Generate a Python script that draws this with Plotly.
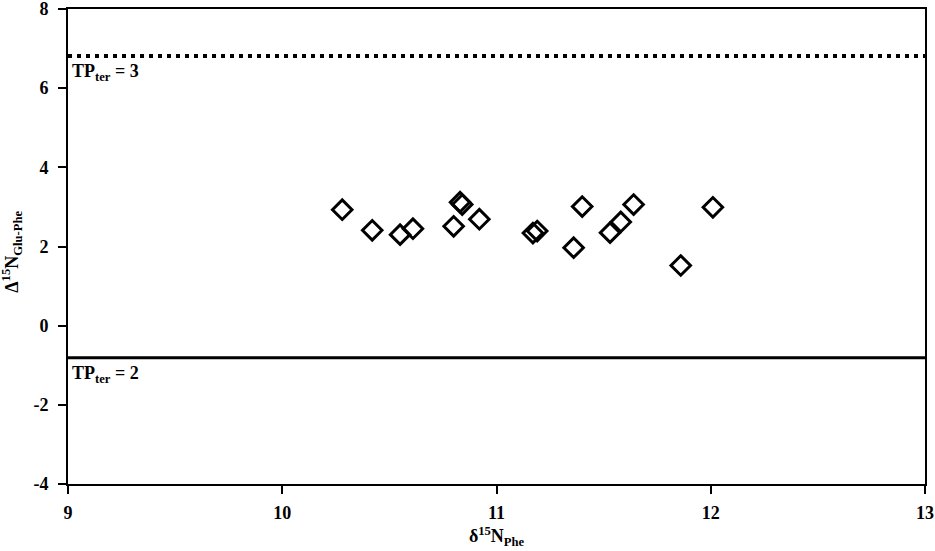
import plotly.graph_objects as go

# d15N Phe (x) and D15N Glu-Phe (y)
d15n_phe = [10.28, 10.42, 10.55, 10.61, 10.80, 10.83, 10.84, 10.92, 11.17,
            11.19, 11.36, 11.40, 11.53, 11.58, 11.64, 11.86, 12.01]
d15n_glu_phe = [2.93, 2.41, 2.30, 2.45, 2.51, 3.12, 3.06, 2.69, 2.34,
                2.39, 1.97, 3.01, 2.35, 2.62, 3.06, 1.52, 2.99]

tp3_level = 6.81
tp2_level = -0.81
x_ticks = [9, 10, 11, 12, 13]
y_ticks = [-4, -2, 0, 2, 4, 6, 8]

font_family = "Liberation Serif"
fsize = 18

fig = go.Figure()
fig.add_trace(go.Scatter(
    x=d15n_phe, y=d15n_glu_phe, mode='markers',
    marker=dict(symbol='diamond-open', size=15, color='black',
                line=dict(width=3, color='black')),
    showlegend=False, hoverinfo='skip',
))

fig.add_shape(type='line', xref='x', yref='y', x0=9, x1=13,
              y0=tp3_level, y1=tp3_level,
              line=dict(color='black', width=4, dash='4px,5px'))
fig.add_shape(type='line', xref='x', yref='y', x0=9, x1=13,
              y0=tp2_level, y1=tp2_level,
              line=dict(color='black', width=3))

fig.add_annotation(x=9, y=tp3_level, xref='x', yref='y',
                   text='<b>TP<sub>ter</sub> = 3</b>', showarrow=False,
                   xanchor='left', yanchor='top', xshift=2, yshift=-3,
                   font=dict(family=font_family, size=fsize, color='black'))
fig.add_annotation(x=9, y=tp2_level, xref='x', yref='y',
                   text='<b>TP<sub>ter</sub> = 2</b>', showarrow=False,
                   xanchor='left', yanchor='top', xshift=2, yshift=-3,
                   font=dict(family=font_family, size=fsize, color='black'))

# y axis title as annotation to place it like the original
fig.add_annotation(x=-0.066, y=0.49, xref='paper', yref='paper',
                   text='<b>Δ<sup>15</sup>N<sub>Glu-Phe</sub></b>',
                   showarrow=False, textangle=-90,
                   xanchor='center', yanchor='middle',
                   font=dict(family=font_family, size=fsize, color='black'))

axis_common = dict(
    showgrid=False, zeroline=False, showline=True, linecolor='black',
    linewidth=2, mirror=True, ticks='outside', ticklen=8, tickwidth=2,
    tickcolor='black', automargin=False, ticklabeloverflow='allow',
    tickfont=dict(family=font_family, size=fsize, color='black'),
)

fig.update_xaxes(range=[9, 13], tickvals=x_ticks,
                 ticktext=['<b>%d</b>' % v for v in x_ticks],
                 ticklabelstandoff=3,
                 title=dict(text='<b>δ<sup>15</sup>N<sub>Phe</sub></b>',
                            font=dict(family=font_family, size=fsize, color='black'),
                            standoff=8),
                 **axis_common)
fig.update_yaxes(range=[-4, 8], tickvals=y_ticks,
                 ticktext=['<b>%d</b>' % v for v in y_ticks],
                 ticklabelstandoff=6,
                 **axis_common)

fig.update_layout(
    width=935, height=551,
    plot_bgcolor='white', paper_bgcolor='white',
    margin=dict(l=68, r=10, t=9, b=67),
    font=dict(family=font_family, color='black'),
)
# drop the default body margin so the figure sits at the page corner
fig.write_html("out.html", config={'displayModeBar': False},
               post_script="document.body.style.margin='0';")
